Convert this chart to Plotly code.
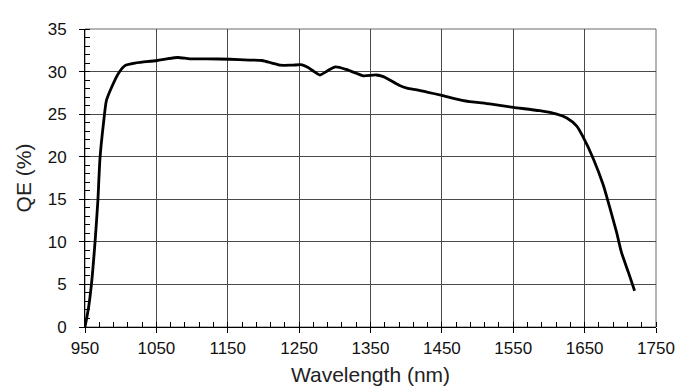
import plotly.graph_objects as go

wavelength_nm = [950, 955, 959, 964, 968, 971, 976, 980, 987, 997, 1006, 1020, 1030, 1051, 1065,
                 1080, 1097, 1121, 1153, 1180, 1198, 1212, 1223, 1240, 1254, 1262, 1271, 1279,
                 1290, 1301, 1316, 1330, 1340, 1358, 1368, 1377, 1390, 1401, 1415, 1429, 1450,
                 1480, 1517, 1550, 1587, 1611, 1625, 1639, 1648, 1662, 1676, 1685, 1695, 1701.5,
                 1711, 1720]
qe_percent = [0, 2.3, 5, 9.9, 14.8, 19.8, 24, 26.6, 28.1, 29.8, 30.7, 31.0, 31.1, 31.3, 31.5,
              31.65, 31.5, 31.5, 31.45, 31.35, 31.3, 31.0, 30.75, 30.75, 30.8, 30.5, 30.0, 29.6,
              30.1, 30.55, 30.25, 29.8, 29.5, 29.6, 29.4, 29.0, 28.4, 28.05, 27.85, 27.6, 27.2,
              26.6, 26.2, 25.8, 25.4, 25.0, 24.55, 23.6, 22.3, 19.8, 16.7, 14.1, 11.05, 8.8,
              6.5, 4.25]

x_ticks = [950, 1050, 1150, 1250, 1350, 1450, 1550, 1650, 1750]
y_ticks = [0, 5, 10, 15, 20, 25, 30, 35]

FONT = "Liberation Sans, Arial, sans-serif"

fig = go.Figure()
fig.add_trace(go.Scatter(
    x=wavelength_nm, y=qe_percent, mode="lines",
    line=dict(color="black", width=2.8, shape="spline", smoothing=0.6),
    showlegend=False, hoverinfo="skip"))

fig.update_layout(
    width=691, height=388,
    margin=dict(l=77, r=43, t=12, b=69),
    paper_bgcolor="white", plot_bgcolor="white",
    font=dict(family=FONT, size=17, color="black"),
)
fig.update_xaxes(
    range=[950, 1750], tickvals=x_ticks, ticktext=[str(v) for v in x_ticks],
    showgrid=True, gridcolor="#4a4a4a", gridwidth=1,
    showline=True, linecolor="black", linewidth=1,
    ticks="outside", ticklen=5, tickcolor="black",
    minor=dict(ticks="inside", dtick=20, tick0=950, ticklen=5, tickcolor="black", showgrid=False),
    tickfont=dict(size=17, color="#111"), ticklabelstandoff=1,
    title=dict(text="Wavelength (nm)", font=dict(size=21, color="#222"), standoff=9),
    zeroline=False,
)
fig.update_yaxes(
    range=[0, 35], tickvals=y_ticks,
    showgrid=True, gridcolor="#4a4a4a", gridwidth=1,
    showline=True, linecolor="black", linewidth=1,
    ticks="outside", ticklen=5, tickcolor="black",
    minor=dict(ticks="inside", dtick=1, tick0=0, ticklen=5, tickcolor="black", showgrid=False),
    tickfont=dict(size=17, color="#111"), ticklabelstandoff=9,
    title=dict(text="QE (%)", font=dict(size=21, color="#222"), standoff=10),
    zeroline=False,
)
fig.add_shape(type="rect", xref="paper", yref="paper", x0=0, y0=0, x1=1, y1=1,
              line=dict(color="#6a6a6a", width=1), layer="below")

fig.write_html("out.html")
